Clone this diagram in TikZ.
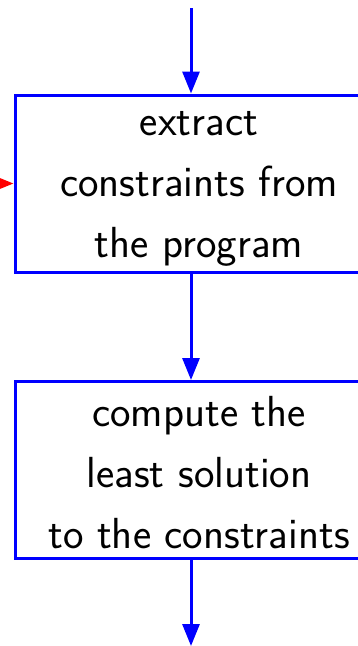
\documentclass[tikz,border=0pt]{standalone}
\usetikzlibrary{arrows.meta}
\begin{document}
\begin{tikzpicture}[x=1pt,y=-1pt,
  stepbox/.style={draw=blue,line width=3pt,minimum width=368pt,minimum height=177pt,inner sep=0pt},
  steptext/.style={align=center,inner sep=0pt,font=\sffamily\fontsize{43.5}{61}\selectfont},
  flow/.style={draw=blue,line width=3pt,-{Triangle[length=22pt,width=17pt]}},
  back/.style={draw=red,line width=3pt,-{Triangle[length=22pt,width=17pt]}}]
\useasboundingbox (0,0) rectangle (358,646);
\clip (0,0) rectangle (358,646);
\node[stepbox] (ext) at (199,183.5) {};
\node[steptext] (extt) at ([yshift=-5pt]ext.center) {extract\\constraints from\\the program};
\node[stepbox] (comp) at (199,470) {};
\node[steptext] (compt) at ([yshift=-3pt]comp.center) {compute the\\least solution\\to the constraints};
\coordinate (top) at (191,8);
\coordinate (bot) at (191,646);
\coordinate (redin) at (-40,183.5);
\draw[flow] (top) -- (top |- ext.north);
\draw[flow] (top |- ext.south) -- (top |- comp.north);
\draw[flow] (top |- comp.south) -- (bot);
\draw[back] (redin) -- (ext.west);
\end{tikzpicture}
\end{document}
